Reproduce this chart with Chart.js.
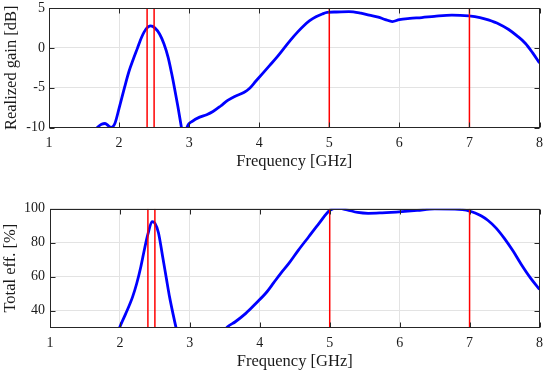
<!DOCTYPE html>
<html><head><meta charset="utf-8">
<script src="https://cdn.jsdelivr.net/npm/chart.js@4/dist/chart.umd.min.js"></script>
<style>
html,body{margin:0;padding:0;background:#fff;}
#wrap{position:relative;width:550px;height:374px;}
.c{position:absolute;left:0;width:550px;height:187px;}
</style></head><body>
<div id="wrap">
<div class="c" style="top:0"><canvas id="top" width="550" height="187"></canvas></div>
<div class="c" style="top:187px"><canvas id="bot" width="550" height="187"></canvas></div>
</div>
<script>
// ---- data ----
const freqTicks = [1, 2, 3, 4, 5, 6, 7, 8];
const gainTicks = [-10, -5, 0, 5];
const effTicks = [40, 60, 80, 100];
const markerFreqs = [2.4, 2.5, 5, 7];

const gainFreq = [1.60, 1.69, 1.75, 1.80, 1.85, 1.89, 1.94, 2.00, 2.08, 2.14, 2.20, 2.26, 2.32, 2.38, 2.45, 2.51, 2.58, 2.64, 2.70, 2.75, 2.79, 2.84, 2.89, 2.92, 2.95, 2.97, 3.05, 3.15, 3.25, 3.34, 3.45, 3.55, 3.65, 3.78, 3.86, 3.95, 4.05, 4.15, 4.25, 4.35, 4.45, 4.55, 4.64, 4.72, 4.81, 4.90, 4.97, 5.10, 5.28, 5.45, 5.57, 5.70, 5.80, 5.90, 6.00, 6.15, 6.32, 6.50, 6.75, 6.99, 7.15, 7.27, 7.42, 7.56, 7.68, 7.80, 7.90, 8.00];
const gainDb = [-10.8, -10.0, -9.6, -9.5, -9.8, -10.0, -9.5, -7.6, -4.9, -3.0, -1.5, -0.1, 1.3, 2.3, 2.75, 2.5, 1.7, 0.5, -1.2, -3.2, -5.0, -7.4, -10.0, -11.5, -11.0, -10.0, -9.2, -8.7, -8.4, -8.0, -7.3, -6.6, -6.1, -5.6, -5.1, -4.2, -3.2, -2.2, -1.2, -0.1, 1.0, 2.0, 2.8, 3.4, 3.9, 4.25, 4.45, 4.5, 4.55, 4.35, 4.1, 3.85, 3.55, 3.3, 3.55, 3.7, 3.8, 3.95, 4.1, 4.0, 3.8, 3.5, 3.0, 2.3, 1.5, 0.55, -0.6, -1.9];

const effFreq = [1.95, 2.00, 2.08, 2.18, 2.24, 2.30, 2.35, 2.40, 2.46, 2.50, 2.55, 2.61, 2.66, 2.71, 2.76, 2.80, 2.85, 3.45, 3.54, 3.65, 3.80, 3.95, 4.10, 4.20, 4.30, 4.41, 4.55, 4.70, 4.85, 5.00, 5.12, 5.25, 5.40, 5.55, 5.75, 6.03, 6.25, 6.50, 6.79, 6.90, 7.00, 7.08, 7.17, 7.26, 7.38, 7.50, 7.62, 7.74, 7.87, 8.00];
const effPct = [24, 30.5, 38, 48, 56, 66, 76, 85, 92.4, 91.5, 86, 72, 60, 48, 38, 30.5, 22, 26, 30.5, 33.5, 38.4, 44.5, 51, 56.5, 62, 67.5, 75.5, 83.5, 91.5, 99, 100.3, 99.3, 97.8, 97.3, 97.6, 98.3, 99, 99.9, 99.8, 99.4, 98.6, 97.5, 95.7, 93.2, 88.6, 82.4, 75.2, 67.2, 59.3, 52.5];

// ---- styling ----
const FONT = "'Liberation Serif', 'Times New Roman', serif";
const TXT = '#1a1a1a';
const GRID = '#e3e3e3';
const AXC = '#262626';

const boxPlugin = {
  id: 'matlabBox',
  afterDatasetsDraw(chart) {
    const {ctx, chartArea: a, scales: {x, y}} = chart;
    ctx.save();
    ctx.strokeStyle = AXC;
    ctx.lineWidth = 1;
    const L = Math.round(a.left) + 0.5, R = Math.round(a.right) - 0.5;
    const T = Math.round(a.top) + 0.5, B = Math.round(a.bottom) - 0.5;
    ctx.strokeRect(L, T, R - L, B - T);
    const len = 5;
    ctx.beginPath();
    x.ticks.forEach(t => {
      const px = Math.round(x.getPixelForValue(t.value)) + 0.5;
      ctx.moveTo(px, B); ctx.lineTo(px, B - len);
      ctx.moveTo(px, T); ctx.lineTo(px, T + len);
    });
    y.ticks.forEach(t => {
      const py = Math.round(y.getPixelForValue(t.value)) + 0.5;
      ctx.moveTo(L, py); ctx.lineTo(L + len, py);
      ctx.moveTo(R, py); ctx.lineTo(R - len, py);
    });
    ctx.stroke();
    ctx.restore();
  }
};

function makeChart(id, o) {
  const curve = o.xs.map((v, i) => ({x: v, y: o.ys[i]}));
  const markers = markerFreqs.map(f => ({
    data: [{x: f, y: o.yMin}, {x: f, y: o.yMax}],
    borderColor: '#ff0000', borderWidth: 1.5, pointRadius: 0, tension: 0, clip: 0, order: 0
  }));
  return new Chart(document.getElementById(id), {
    type: 'line',
    data: {
      datasets: [{
        data: curve, borderColor: '#0000ff', borderWidth: 2.8, pointRadius: 0,
        cubicInterpolationMode: 'monotone', clip: 0, order: 1
      }].concat(markers)
    },
    options: {
      responsive: false, animation: false, events: [],
      layout: {padding: o.pad},
      plugins: {legend: {display: false}, tooltip: {enabled: false}},
      scales: {
        x: {
          type: 'linear', min: 1, max: 8,
          afterBuildTicks: s => { s.ticks = freqTicks.map(v => ({value: v})); },
          afterFit: s => { s.height = o.xH; },
          grid: {color: GRID, drawTicks: false},
          border: {display: false},
          ticks: {color: TXT, font: {family: FONT, size: 14}, padding: 7, maxRotation: 0, autoSkip: false},
          title: {display: true, text: 'Frequency [GHz]', color: TXT,
                  font: {family: FONT, size: 16.5}, padding: {top: 0, bottom: o.xTitlePad}}
        },
        y: {
          type: 'linear', min: o.yMin, max: o.yMax,
          afterBuildTicks: s => { s.ticks = o.yTicks.map(v => ({value: v})); },
          afterFit: s => { s.width = o.yW; s.paddingTop = 0; s.paddingBottom = 0; },
          grid: {color: GRID, drawTicks: false},
          border: {display: false},
          ticks: {color: TXT, font: {family: FONT, size: 14, lineHeight: 1}, padding: o.yTickPad, autoSkip: false},
          title: {display: true, text: o.yTitle, color: TXT,
                  font: {family: FONT, size: 16.5}, padding: {top: o.yTitlePad, bottom: 0}}
        }
      }
    },
    plugins: [boxPlugin]
  });
}

makeChart('top', {
  xs: gainFreq, ys: gainDb, yMin: -10, yMax: 5, yTicks: gainTicks,
  yTitle: 'Realized gain [dB]',
  pad: {left: 0, right: 10, top: 8, bottom: 0},
  xH: 59.5, yW: 49, xTitlePad: 15, yTitlePad: 2, yTickPad: 4
});
makeChart('bot', {
  xs: effFreq, ys: effPct, yMin: 30, yMax: 100, yTicks: effTicks,
  yTitle: 'Total eff. [%]',
  pad: {left: 0, right: 8, top: 21.7, bottom: 0},
  xH: 46.3, yW: 50, xTitlePad: 2, yTitlePad: 1, yTickPad: 5
});
</script>
</body></html>
